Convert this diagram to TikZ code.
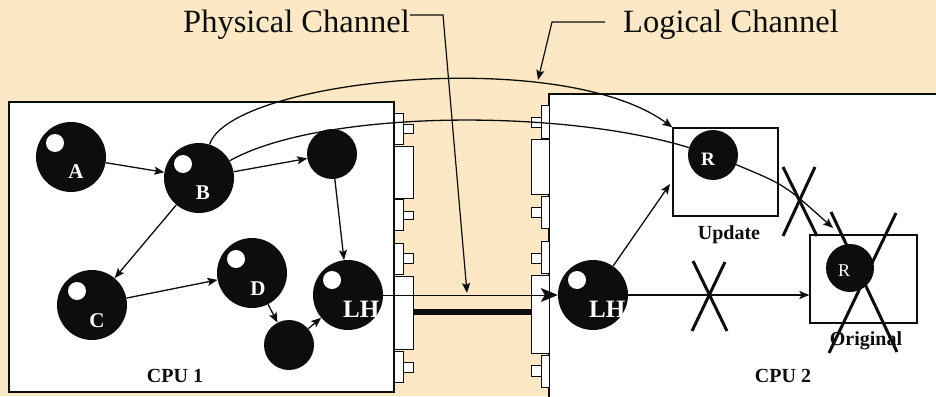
\documentclass[tikz,border=0pt]{standalone}
\usepackage{fontspec}
\setmainfont{Liberation Serif}
\usetikzlibrary{arrows.meta}
\definecolor{parchment}{RGB}{252,232,197}
\definecolor{ink}{RGB}{12,14,13}
\pgfdeclarelayer{bg}
\pgfdeclarelayer{wires}
\pgfdeclarelayer{front}
\pgfsetlayers{bg,wires,main,front}

\begin{document}
\begin{tikzpicture}[x=1pt,y=-1pt,
  bigball/.style={circle, fill=ink, minimum size=70pt, inner sep=0pt},
  smallball/.style={circle, fill=ink, minimum size=50pt, inner sep=0pt},
  ballname/.style={text=white, font=\fontsize{21}{21}\selectfont\bfseries, inner sep=0pt},
  wire/.style={draw=ink, line width=1.3pt, -{Stealth[length=10pt,width=8pt,inset=2pt]}},
  plainwire/.style={draw=ink, line width=1.3pt},
  bigwire/.style={draw=ink, line width=1pt, -{Stealth[length=17pt,width=14pt,inset=4pt]}},
  cpubox/.style={draw=ink, fill=white, line width=2pt},
  port/.style={draw=ink, fill=white, line width=1pt},
  holder/.style={draw=ink, line width=1.2pt, inner sep=0pt},
  caption/.style={font=\fontsize{20}{20}\selectfont\bfseries, text=ink, inner sep=0pt, anchor=base},
  heading/.style={font=\fontsize{32.5}{32.5}\selectfont, text=ink, inner sep=0pt, anchor=base west},
  veto/.style={draw=ink, line width=3pt},
  channel/.style={draw=ink, line width=6pt}]

\useasboundingbox (0,0) rectangle (936,396);

% ---------- background, processors and their ports ----------
\begin{pgfonlayer}{bg}
  \fill[parchment] (0,0) rectangle (936,396);
  \draw[cpubox] (9,102) rectangle (394,392);
  \draw[cpubox] (549,94) rectangle (938,398);

  % ports on the right edge of CPU 1
  \draw[port] (394,113) rectangle (403.5,144);
  \draw[port] (403.5,124) rectangle (413,133);
  \draw[port] (394,146) rectangle (413,198);
  \draw[port] (394,199) rectangle (403.5,230);
  \draw[port] (403.5,211) rectangle (413,219);
  \draw[port] (394,243) rectangle (403.5,274);
  \draw[port] (403.5,253) rectangle (413,263);
  \node[port, minimum width=19pt, minimum height=73pt, inner sep=0pt] (portL) at (403.5,312.5) {};
  \draw[port] (394,351) rectangle (403.5,382);
  \draw[port] (403.5,362) rectangle (413,372);

  % ports on the left edge of CPU 2
  \draw[port] (541,105) rectangle (549,138);
  \draw[port] (531,117) rectangle (541,127);
  \draw[port] (531,139) rectangle (549,194);
  \draw[port] (541,196) rectangle (549,228);
  \draw[port] (531,207) rectangle (541,217);
  \draw[port] (541,241) rectangle (549,273);
  \draw[port] (531,253) rectangle (541,263);
  \node[port, minimum width=18pt, minimum height=78pt, inner sep=0pt] (portR) at (540,314) {};
  \draw[port] (541,355) rectangle (549,387);
  \draw[port] (531,365) rectangle (541,376);

  % physical link between the two processors
  \draw[channel] (portL.east |- 0,312) -- (portR.west |- 0,312);
\end{pgfonlayer}

% ---------- processes ----------
\node[bigball] (A) at (71,157) {};
\node[bigball] (B) at (199,178) {};
\node[smallball] (E) at (332,154) {};
\node[bigball] (C) at (92,305) {};
\node[bigball] (D) at (252,273) {};
\node[smallball] (F) at (289,345) {};
\node[bigball] (LH1) at (348,295) {};
\node[bigball] (LH2) at (593,295) {};
\node[smallball] (Rupd) at (713,155) {};
\node[circle, fill=ink, minimum size=48pt, inner sep=0pt] (Rorg) at (850,268) {};

% highlights
\foreach \p in {(55,143),(183,164),(77,291),(236,259),(332,280),(577,280)}
  \fill[white] \p circle[radius=9pt];

% process names
\node[ballname] (A-t) at (76,172) {A};
\node[ballname] (B-t) at (203,193) {B};
\node[ballname] (C-t) at (97,321) {C};
\node[ballname] (D-t) at (258,289) {D};
\node[ballname, font=\fontsize{25}{25}\selectfont\bfseries, anchor=west] (LH1-t) at (343,309) {LH};
\node[ballname, font=\fontsize{25}{25}\selectfont\bfseries, anchor=west] (LH2-t) at (589,309) {LH};
\node[ballname, font=\fontsize{19}{19}\selectfont\bfseries] (Rupd-t) at (708,159) {R};
\node[ballname, font=\fontsize{18}{18}\selectfont] (Rorg-t) at (844,271) {R};

% ---------- frames for the two copies of R ----------
\node[holder, minimum width=105pt, minimum height=88pt] (upd) at (725.5,172) {};
\node[holder, minimum width=107pt, minimum height=88pt] (orig) at (863.5,279) {};
\node[caption] (upd-t) at (729,239) {Update};
\node[caption] (orig-t) at (866,345) {Original};
\node[caption] (cpu1) at (175,382) {CPU 1};
\node[caption] (cpu2) at (783,382) {CPU 2};

% ---------- headings ----------
\node[heading] (phys) at (183,33) {Physical Channel};
\node[heading] (logi) at (623,33) {Logical Channel};
\coordinate (pbend) at (443,15);
\coordinate (ptip) at (467,293);
\coordinate (lstart) at (605,22);
\coordinate (lbend) at (552,22);
\coordinate (ltip) at (538,80);
\coordinate (updin) at (670,184);
\coordinate (orgin) at (833,228);

% ---------- connectors ----------
\begin{pgfonlayer}{wires}
  \draw[wire] (A) -- (B);
  \draw[wire] (B) -- (E);
  \draw[wire] (B) -- (C);
  \draw[wire] (E) -- (LH1);
  \draw[wire] (C) -- (D);
  \draw[wire] (D) -- (F);
  \draw[wire] (F) -- (LH1);
  \draw[bigwire] (LH1) -- (LH2);
  \draw[wire] (LH2) -- (updin);
  \draw[wire] (LH2) -- (orig.west |- LH2);
  % logical channel
  \draw[wire] (B) .. controls (230,80) and (560,45) .. (upd.north west);
  \draw[plainwire] (B) .. controls (320,110) and (560,108) .. (Rupd);
  \draw[wire] (Rupd) .. controls (785,185) .. (orgin);
  % heading leaders
  \draw[wire, line width=1.2pt] (phys.east |- pbend) -- (pbend) -- (ptip);
  \draw[wire, line width=1.2pt] (lstart) -- (lbend) -- (ltip);
\end{pgfonlayer}

% ---------- cancelled links ----------
\begin{pgfonlayer}{front}
  \draw[veto] (783,167) -- (817,236);
  \draw[veto] (815,167) -- (783,236);
  \draw[veto] (831,212) -- (897,352);
  \draw[veto] (896,213) -- (829,353);
  \draw[veto] (693,261) -- (727,331);
  \draw[veto] (725,262) -- (692,331);
\end{pgfonlayer}
\end{tikzpicture}
\end{document}
